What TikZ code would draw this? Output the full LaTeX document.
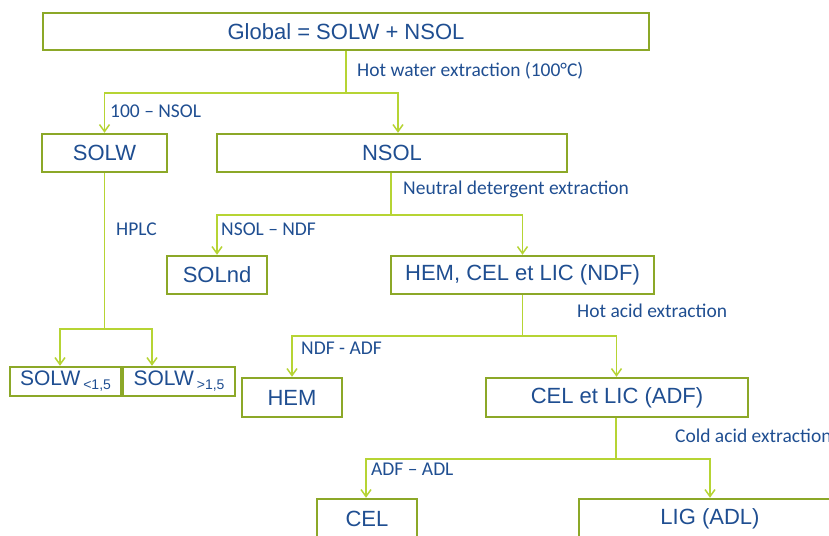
\documentclass[tikz,border=0pt]{standalone}
\usepackage{fontspec}
\setmainfont{Liberation Sans}
\newfontfamily\labelfont{Carlito}
\usetikzlibrary{arrows.meta}
\definecolor{boxgreen}{RGB}{140,168,40}
\definecolor{linkgreen}{RGB}{182,212,52}
\definecolor{inkblue}{RGB}{31,78,145}

\begin{document}
\begin{tikzpicture}[x=1pt,y=-1pt,
  stepbox/.style={draw=boxgreen, line width=2.4pt, fill=white, text=inkblue,
    inner sep=0pt, font=\fontsize{22}{26}\selectfont},
  smallbox/.style={stepbox, font=\fontsize{21}{24}\selectfont},
  link/.style={draw=linkgreen, line width=1.5pt},
  arrowlink/.style={link, -{Straight Barb[length=7pt,width=10pt,line width=1.5pt]}},
  note/.style={text=inkblue, inner sep=0pt, anchor=base west,
    font=\labelfont\fontsize{19.5}{22}\selectfont}]
\useasboundingbox (0,0) rectangle (829,535);
\clip (0,0) rectangle (829,535);

% fractions
\node[stepbox, minimum width=606pt, minimum height=37pt] (global) at (346,31.5) {Global = SOLW + NSOL};
\node[stepbox, minimum width=125pt, minimum height=38pt] (solw) at (104.5,153) {SOLW};
\node[stepbox, minimum width=350pt, minimum height=38pt] (nsol) at (392,153) {NSOL};
\node[stepbox, minimum width=100pt, minimum height=38pt] (solnd) at (217,275) {SOLnd};
\node[stepbox, minimum width=263pt, minimum height=38pt] (ndf) at (522.5,275) {HEM, CEL et LIC (NDF)};
\node[smallbox, minimum width=111pt, minimum height=29pt] (solwa) at (65.5,381.5)
  {SOLW\hspace{3pt}\raisebox{-4pt}{\fontsize{14}{16}\selectfont <1,5}};
\node[smallbox, minimum width=112pt, minimum height=29pt] (solwb) at (179,381.5)
  {SOLW\hspace{3pt}\raisebox{-4pt}{\fontsize{14}{16}\selectfont >1,5}};
\node[stepbox, minimum width=100pt, minimum height=39pt] (hem) at (292,397.5) {HEM};
\node[stepbox, minimum width=262pt, minimum height=39pt] (adf) at (617,397.5) {CEL et LIC (ADF)};
\node[stepbox, minimum width=100pt, minimum height=40pt] (cel) at (367,519) {CEL};
\node[stepbox, minimum width=262pt, minimum height=40pt] (lig) at (710,519) {LIG (ADL)};

% extraction steps
\draw[link] (global.south) -- ++(0,42) coordinate (j1);
\draw[arrowlink] (j1) -| (solw.north);
\draw[arrowlink] (j1) -| ([xshift=6pt]nsol.north);

\draw[link] ([xshift=-1pt]nsol.south) -- ++(0,42) coordinate (j2);
\draw[arrowlink] (j2) -| (solnd.north);
\draw[arrowlink] (j2) -| (ndf.north);

\draw[link] (solw.south) -- ++(0,156) coordinate (j3);
\draw[arrowlink] (j3) -| ([xshift=-5.5pt]solwa.north);
\draw[arrowlink] (j3) -| ([xshift=-27pt]solwb.north);

\draw[link] (ndf.south) -- ++(0,41) coordinate (j4);
\draw[arrowlink] (j4) -| (hem.north);
\draw[arrowlink] (j4) -| ([xshift=-0.5pt]adf.north);

\draw[link] ([xshift=-1pt]adf.south) -- ++(0,41) coordinate (j5);
\draw[arrowlink] (j5) -| ([xshift=-1pt]cel.north);
\draw[arrowlink] (j5) -| (lig.north);

% step labels
\node[note] (lhot) at (357,76.7) {Hot water extraction (100°C)};
\node[note] (l100) at (110,117) {100 – NSOL};
\node[note] (lneutral) at (403,194) {Neutral detergent extraction};
\node[note] (lhplc) at (116,235) {HPLC};
\node[note] (lnsol) at (221,235) {NSOL – NDF};
\node[note] (lhotacid) at (577,317) {Hot acid extraction};
\node[note] (lndf) at (301,354) {NDF - ADF};
\node[note] (lcold) at (675,442) {Cold acid extraction};
\node[note] (ladf) at (371,475) {ADF – ADL};
\end{tikzpicture}
\end{document}
